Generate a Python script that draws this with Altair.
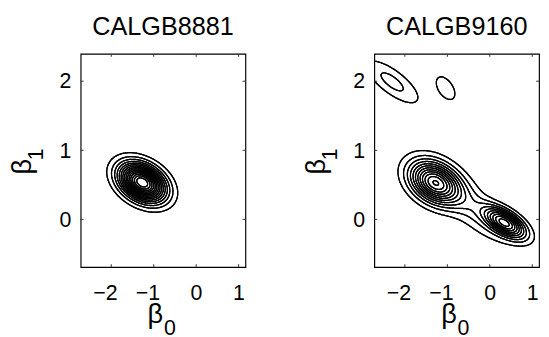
import numpy as np
import pandas as pd
import altair as alt

# ---- axes ----
X_DOMAIN = [-2.72, 1.16]
Y_DOMAIN = [-0.69, 2.395]
x_ticks = [-2, -1, 0, 1]
y_ticks = [0, 1, 2]
contour_levels = list(range(1, 16))

titles = ["CALGB8881", "CALGB9160"]

# ---- density components : left panel ----
left_mx = [-1.27]
left_my = [0.535]
left_sx = [0.355]
left_sy = [0.183]
left_rho = [-0.35]
left_amp = [16.0]

# ---- right panel ----
right_mx = [-1.30, 0.36, -0.45, -2.30, -1.04]
right_my = [0.53, -0.05, 0.20, 1.99, 1.90]
right_sx = [0.39, 0.32, 0.55, 0.46, 0.28]
right_sy = [0.205, 0.15, 0.35, 0.23, 0.21]
right_rho = [-0.35, -0.60, -0.75, -0.75, -0.50]
right_amp = [11.5, 10.0, 2.2, 2.35, 1.35]

W, H = 170, 220
FONT = "Liberation Sans"


def surface(gx, gy, mx, my, sx, sy, rho, amp):
    Z = np.zeros_like(gx)
    for a, b, c, d, r, k in zip(mx, my, sx, sy, rho, amp):
        dx = (gx - a) / c
        dy = (gy - b) / d
        q = (dx * dx + dy * dy - 2 * r * dx * dy) / (1 - r * r)
        Z += k * np.exp(-q / 2)
    return Z


def march(xs, ys, Z, lev):
    out = []
    ab = Z > lev
    mixed = ~((ab[:-1, :-1] == ab[:-1, 1:]) & (ab[:-1, :-1] == ab[1:, :-1]) & (ab[:-1, :-1] == ab[1:, 1:]))
    for i, j in zip(*np.nonzero(mixed)):
        z00, z01, z10, z11 = Z[i, j], Z[i, j + 1], Z[i + 1, j], Z[i + 1, j + 1]
        x0, x1, y0, y1 = xs[j], xs[j + 1], ys[i], ys[i + 1]
        p = []
        if (z00 > lev) != (z01 > lev):
            t = (lev - z00) / (z01 - z00); p.append((x0 + t * (x1 - x0), y0))
        if (z01 > lev) != (z11 > lev):
            t = (lev - z01) / (z11 - z01); p.append((x1, y0 + t * (y1 - y0)))
        if (z11 > lev) != (z10 > lev):
            t = (lev - z11) / (z10 - z11); p.append((x1 + t * (x0 - x1), y1))
        if (z10 > lev) != (z00 > lev):
            t = (lev - z10) / (z00 - z10); p.append((x0, y1 + t * (y0 - y1)))
        if len(p) == 2:
            out.append((*p[0], *p[1]))
        elif len(p) == 4:
            out.append((*p[0], *p[1])); out.append((*p[2], *p[3]))
    return out


def contour_frame(params):
    xs = np.arange(X_DOMAIN[0] - 0.02, X_DOMAIN[1] + 0.02, 0.018)
    ys = np.arange(Y_DOMAIN[0] - 0.02, Y_DOMAIN[1] + 0.02, 0.012)
    gx, gy = np.meshgrid(xs, ys)
    Z = surface(gx, gy, *params)
    rows = []
    for lev in contour_levels:
        for s in march(xs, ys, Z, lev):
            rows.append(s)
    df = pd.DataFrame(rows, columns=["x", "y", "x2", "y2"]).round(4)
    return df


axis_x = alt.Axis(values=x_ticks, title=None, ticks=False, domain=False, grid=False,
                  labelFontSize=22, labelFont=FONT, labelColor="black", labelAlign="right",
                  labelOffset=6, labelPadding=16, format="d")
axis_y = alt.Axis(values=y_ticks, title=None, ticks=False, domain=False, grid=False,
                  labelFontSize=22, labelFont=FONT, labelColor="black", labelPadding=10, format="d")
sx_ = alt.Scale(domain=X_DOMAIN, nice=False, zero=False)
sy_ = alt.Scale(domain=Y_DOMAIN, nice=False, zero=False)


def X(f):
    return alt.X(f, type="quantitative", scale=sx_, axis=axis_x)


def Y(f):
    return alt.Y(f, type="quantitative", scale=sy_, axis=axis_y)


def panel(params, title):
    df = contour_frame(params)
    lines = alt.Chart(df).mark_rule(color="black", strokeWidth=1.3, strokeCap="round", clip=True).encode(
        x=X("x"), y=Y("y"), x2="x2:Q", y2="y2:Q")
    xt = pd.DataFrame({"t": x_ticks})
    yt = pd.DataFrame({"t": y_ticks})
    tick_style = dict(color="#333333", strokeWidth=1)
    tb = alt.Chart(xt).mark_rule(**tick_style).encode(x=X("t"), y=alt.value(H), y2=alt.value(H - 3))
    tt = alt.Chart(xt).mark_rule(**tick_style).encode(x=X("t"), y=alt.value(0), y2=alt.value(3))
    tl = alt.Chart(yt).mark_rule(**tick_style).encode(y=Y("t"), x=alt.value(0), x2=alt.value(3))
    tr = alt.Chart(yt).mark_rule(**tick_style).encode(y=Y("t"), x=alt.value(W - 3), x2=alt.value(W))
    one = pd.DataFrame({"a": [0]})
    ttl = alt.Chart(one).mark_text(text=title, fontSize=26, font=FONT, baseline="alphabetic", align="center",
                                   color="black").encode(x=alt.value(W / 2), y=alt.value(-19.5))
    bx = alt.Chart(one).mark_text(text="β", fontSize=28, font=FONT, baseline="alphabetic", align="center").encode(
        x=alt.value(77), y=alt.value(H + 57.3))
    bx0 = alt.Chart(one).mark_text(text="0", fontSize=22, font=FONT, baseline="alphabetic", align="center").encode(
        x=alt.value(92), y=alt.value(H + 70))
    by = alt.Chart(one).mark_text(text="β", fontSize=28, font=FONT, baseline="alphabetic", align="center", angle=270).encode(
        x=alt.value(-51), y=alt.value(116.5))
    by1 = alt.Chart(one).mark_text(text="1", fontSize=22, font=FONT, baseline="alphabetic", align="center", angle=270).encode(
        x=alt.value(-39), y=alt.value(103.5))
    return alt.layer(lines, tb, tt, tl, tr, ttl, bx, bx0, by, by1).properties(width=W, height=H)


left_params = (left_mx, left_my, left_sx, left_sy, left_rho, left_amp)
right_params = (right_mx, right_my, right_sx, right_sy, right_rho, right_amp)

chart = alt.hconcat(panel(left_params, titles[0]), panel(right_params, titles[1]), spacing=57).properties(
    padding={"left": 1, "top": 0, "right": 0, "bottom": 0}
).configure(background="white").configure_view(stroke="black", strokeWidth=1.2)

chart.save("out.html", embed_options={"renderer": "svg", "actions": False})
